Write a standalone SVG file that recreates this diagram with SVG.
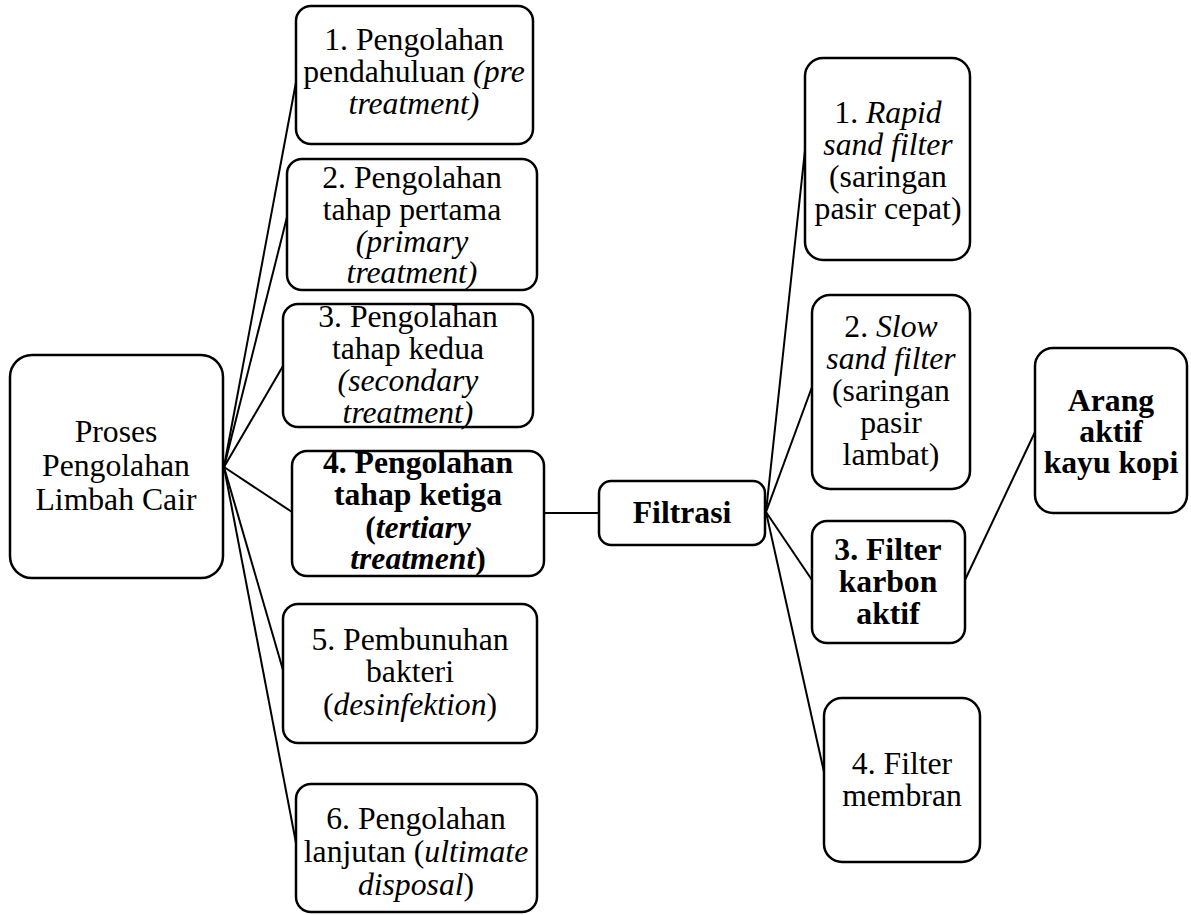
<svg xmlns="http://www.w3.org/2000/svg" width="1191" height="915" viewBox="0 0 1191 915">
<style>
.box{fill:#fff;stroke:#000;stroke-width:2.5}
.t{font-family:"Liberation Serif","Times New Roman",serif;font-size:31.7px;fill:#000;text-anchor:middle}
.b{font-weight:bold}
.i{font-style:italic}
.c{stroke:#000;stroke-width:2;fill:none}
</style>
<rect width="1191" height="915" fill="#fff"/>
<g id="connectors">
<line class="c" x1="224" y1="467" x2="296" y2="82"/>
<line class="c" x1="224" y1="467" x2="287" y2="217"/>
<line class="c" x1="224" y1="467" x2="283" y2="366"/>
<line class="c" x1="224" y1="467" x2="292" y2="512"/>
<line class="c" x1="224" y1="467" x2="283" y2="670"/>
<line class="c" x1="224" y1="467" x2="296" y2="843"/>
<line class="c" x1="544" y1="513" x2="599" y2="513"/>
<line class="c" x1="766" y1="512" x2="805" y2="150"/>
<line class="c" x1="766" y1="512" x2="812" y2="387"/>
<line class="c" x1="766" y1="512" x2="812" y2="580"/>
<line class="c" x1="766" y1="512" x2="824" y2="772"/>
<line class="c" x1="965" y1="580" x2="1035" y2="432"/>
</g>
<g id="main">
<rect class="box" x="10" y="355" width="213" height="223" rx="22"/>
<text class="t" x="116" y="442">Proses</text>
<text class="t" x="116" y="476">Pengolahan</text>
<text class="t" x="116" y="510">Limbah Cair</text>
</g>
<g id="n1">
<rect class="box" x="296" y="6" width="237" height="138" rx="15"/>
<text class="t" x="414" y="50">1. Pengolahan</text>
<text class="t" x="414" y="82">pendahuluan <tspan class="i">(pre</tspan></text>
<text class="t i" x="414" y="114">treatment)</text>
</g>
<g id="n2">
<rect class="box" x="287" y="159" width="250" height="131" rx="15"/>
<text class="t" x="412" y="188">2. Pengolahan</text>
<text class="t" x="412" y="220">tahap pertama</text>
<text class="t i" x="412" y="252">(primary</text>
<text class="t i" x="412" y="283">treatment)</text>
</g>
<g id="n3">
<rect class="box" x="283" y="304" width="250" height="123" rx="15"/>
<text class="t" x="408" y="327">3. Pengolahan</text>
<text class="t" x="408" y="359">tahap kedua</text>
<text class="t i" x="408" y="391">(secondary</text>
<text class="t i" x="408" y="423">treatment)</text>
</g>
<g id="n4">
<rect class="box" x="292" y="451" width="252" height="125" rx="15"/>
<text class="t b" x="418" y="473">4. Pengolahan</text>
<text class="t b" x="418" y="505">tahap ketiga</text>
<text class="t b" x="418" y="538">(<tspan class="i">tertiary</tspan></text>
<text class="t b" x="418" y="569"><tspan class="i">treatment</tspan>)</text>
</g>
<g id="n5">
<rect class="box" x="283" y="604" width="254" height="139" rx="15"/>
<text class="t" x="410" y="650">5. Pembunuhan</text>
<text class="t" x="410" y="682">bakteri</text>
<text class="t" x="410" y="715">(<tspan class="i">desinfektion</tspan>)</text>
</g>
<g id="n6">
<rect class="box" x="296" y="784" width="241" height="128" rx="15"/>
<text class="t" x="416" y="829">6. Pengolahan</text>
<text class="t" x="416" y="862">lanjutan (<tspan class="i">ultimate</tspan></text>
<text class="t" x="416" y="895"><tspan class="i">disposal</tspan>)</text>
</g>
<g id="filtrasi">
<rect class="box" x="599" y="481" width="166" height="64" rx="12"/>
<text class="t b" x="682" y="523">Filtrasi</text>
</g>
<g id="r1">
<rect class="box" x="805" y="58" width="165" height="202" rx="18"/>
<text class="t" x="888" y="123">1. <tspan class="i">Rapid</tspan></text>
<text class="t i" x="888" y="155">sand filter</text>
<text class="t" x="888" y="187">(saringan</text>
<text class="t" x="888" y="219">pasir cepat)</text>
</g>
<g id="r2">
<rect class="box" x="812" y="295" width="158" height="194" rx="18"/>
<text class="t" x="891" y="337">2. <tspan class="i">Slow</tspan></text>
<text class="t i" x="891" y="369">sand filter</text>
<text class="t" x="891" y="401">(saringan</text>
<text class="t" x="891" y="433">pasir</text>
<text class="t" x="891" y="465">lambat)</text>
</g>
<g id="r3">
<rect class="box" x="812" y="521" width="153" height="122" rx="15"/>
<text class="t b" x="888" y="560">3. Filter</text>
<text class="t b" x="888" y="592">karbon</text>
<text class="t b" x="888" y="624">aktif</text>
</g>
<g id="r4">
<rect class="box" x="824" y="698" width="156" height="164" rx="18"/>
<text class="t" x="902" y="774">4. Filter</text>
<text class="t" x="902" y="806">membran</text>
</g>
<g id="arang">
<rect class="box" x="1035" y="348" width="152" height="165" rx="18"/>
<text class="t b" x="1111" y="411">Arang</text>
<text class="t b" x="1111" y="442">aktif</text>
<text class="t b" x="1111" y="473">kayu kopi</text>
</g>
</svg>
